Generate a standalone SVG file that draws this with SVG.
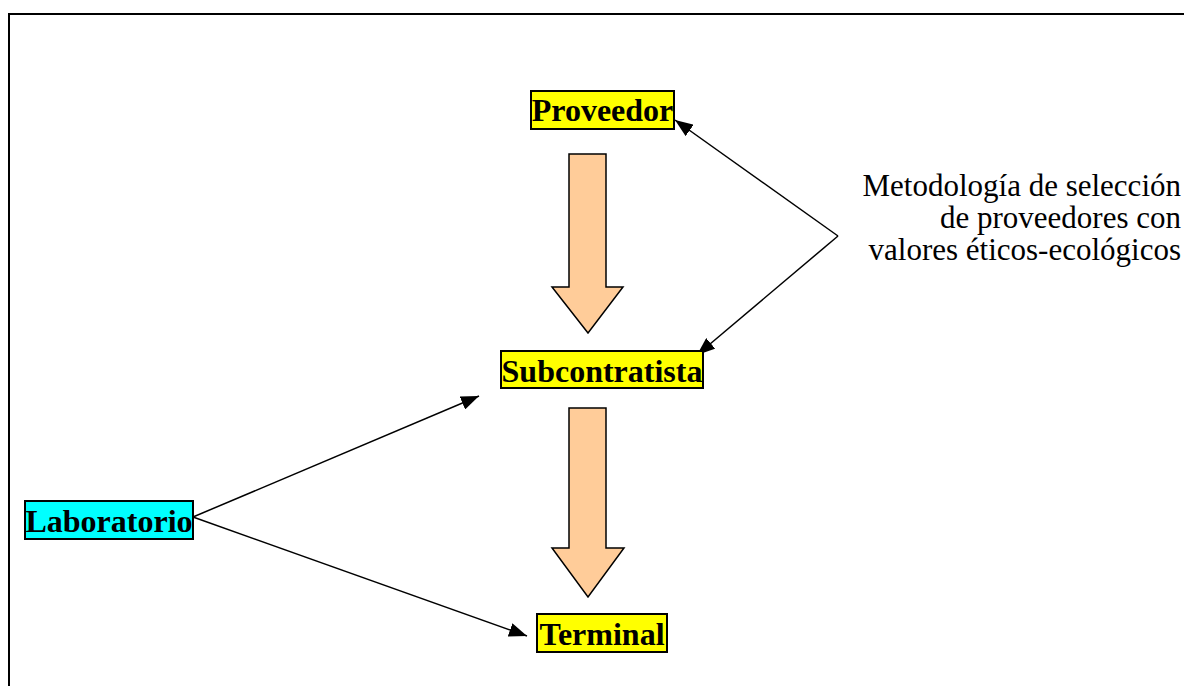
<svg xmlns="http://www.w3.org/2000/svg" width="1184" height="686" viewBox="0 0 1184 686">
<defs>
<style>
.box{stroke:#000;stroke-width:2}
.lbl{font-family:"Liberation Serif","Times New Roman",serif;font-weight:bold;font-size:32px;fill:#000}
.note{font-family:"Liberation Serif","Times New Roman",serif;font-size:31px;fill:#000}
.big{fill:#FFCC99;stroke:#000;stroke-width:1.5}
.con{stroke:#000;stroke-width:1.5;fill:none;marker-end:url(#ah)}
</style>
<marker id="ah" markerUnits="userSpaceOnUse" markerWidth="20" markerHeight="14" refX="18" refY="7" orient="auto">
<path d="M0,0 L18,7 L0,14 Z" fill="#000"/>
</marker>
</defs>
<rect x="0" y="0" width="1184" height="686" fill="#fff"/>
<path d="M9,686 V14 H1184" fill="none" stroke="#000" stroke-width="2"/>
<g id="arrow-big-1"><path class="big" d="M569,154 H606 V287 H623 L588,333 L552,287 H569 Z"/></g>
<g id="arrow-big-2"><path class="big" d="M569,408 H606 V548 H624 L588,597 L552,548 H569 Z"/></g>
<g id="connectors">
<line class="con" x1="838" y1="236" x2="675" y2="120"/>
<line class="con" x1="838" y1="236" x2="697" y2="355"/>
<line class="con" x1="193" y1="517" x2="479" y2="396"/>
<line class="con" x1="193" y1="517" x2="527" y2="636"/>
</g>
<g id="proveedor"><rect class="box" x="531" y="91" width="143" height="38" fill="#FFFF00"/><text class="lbl" x="602.5" y="121" text-anchor="middle">Proveedor</text></g>
<g id="subcontratista"><rect class="box" x="501" y="351" width="202" height="37" fill="#FFFF00"/><text class="lbl" x="602" y="382" text-anchor="middle">Subcontratista</text></g>
<g id="laboratorio"><rect class="box" x="25" y="501" width="168" height="38" fill="#00FFFF"/><text class="lbl" x="109" y="532" text-anchor="middle">Laboratorio</text></g>
<g id="terminal"><rect class="box" x="537" y="614" width="130" height="38" fill="#FFFF00"/><text class="lbl" x="602" y="645" text-anchor="middle">Terminal</text></g>
<g id="note"><text class="note" text-anchor="end"><tspan x="1181" y="196">Metodología de selección</tspan><tspan x="1181" y="228">de proveedores con</tspan><tspan x="1181" y="260">valores éticos-ecológicos</tspan></text></g>
</svg>
